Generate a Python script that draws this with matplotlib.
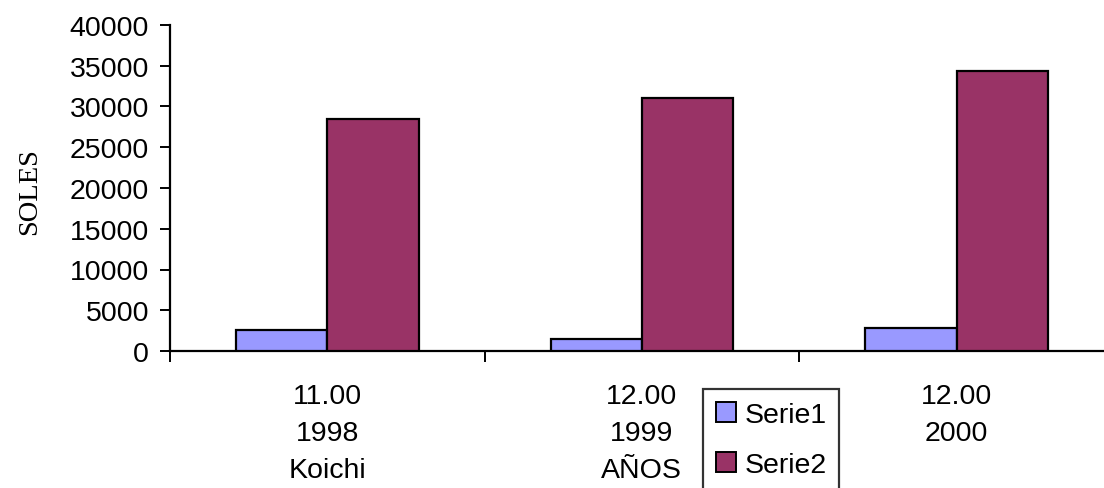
import matplotlib
matplotlib.use("Agg")
import matplotlib.pyplot as plt
import numpy as np
from matplotlib.patches import Patch

categories = ["11.00\n1998\nKoichi", "12.00\n1999", "12.00\n2000"]
serie1 = [2600, 1500, 2800]
serie2 = [28500, 31000, 34400]
series_names = ["Serie1", "Serie2"]
colors = ["#9999FF", "#993366"]
yticks = [0, 5000, 10000, 15000, 20000, 25000, 30000, 35000, 40000]

plt.rcParams['font.family'] = ['Liberation Sans', 'DejaVu Sans']
fs = 20.5

fig = plt.figure(figsize=(11.04, 4.89), dpi=100)
ax = fig.add_axes([170/1104, 1-352/489, 944/1104, (352-26)/489])

x = np.arange(len(categories))
w = 0.29
ax.bar(x - w/2, serie1, w, color=colors[0], edgecolor='black', linewidth=1.6, zorder=3)
ax.bar(x + w/2, serie2, w, color=colors[1], edgecolor='black', linewidth=1.6, zorder=3)

ax.set_xlim(-0.5, 2.5)
ax.set_ylim(0, 40000)
ax.set_yticks(yticks)
ax.set_yticklabels([str(v) for v in yticks], fontsize=fs)
ax.set_xticks(x)
ax.set_xticklabels(categories, fontsize=fs, linespacing=1.56)
ax.set_xticks(np.arange(-0.5, 2.6, 1.0), minor=True)
ax.tick_params(axis='x', which='major', length=0, pad=23)
ax.tick_params(axis='x', which='minor', length=8, width=1.4, direction='out')
ax.tick_params(axis='y', length=7, width=1.4, direction='out', pad=8)
for s in ['top', 'right']:
    ax.spines[s].set_visible(False)
for s in ['left', 'bottom']:
    ax.spines[s].set_linewidth(1.6)

fig.text(30/1104, 1-192/489, "SOLES", rotation=90, ha='center', va='center',
         fontsize=20.5, family=['Liberation Serif', 'DejaVu Serif'])
fig.text(641/1104, 1-471/489, "AÑOS", ha='center', va='center', fontsize=fs)

handles = [Patch(facecolor=c, edgecolor='black', linewidth=1.4) for c in colors]
leg = fig.legend(handles, series_names, loc='upper left',
                 bbox_to_anchor=(703/1104, 1-390/489), fontsize=fs,
                 frameon=True, fancybox=False, edgecolor='black',
                 handlelength=0.7, handleheight=0.7, handletextpad=0.3,
                 labelspacing=0.85, borderpad=0.45, borderaxespad=0)
leg.get_frame().set_linewidth(1.6)

fig.savefig("out.png", dpi=100)
